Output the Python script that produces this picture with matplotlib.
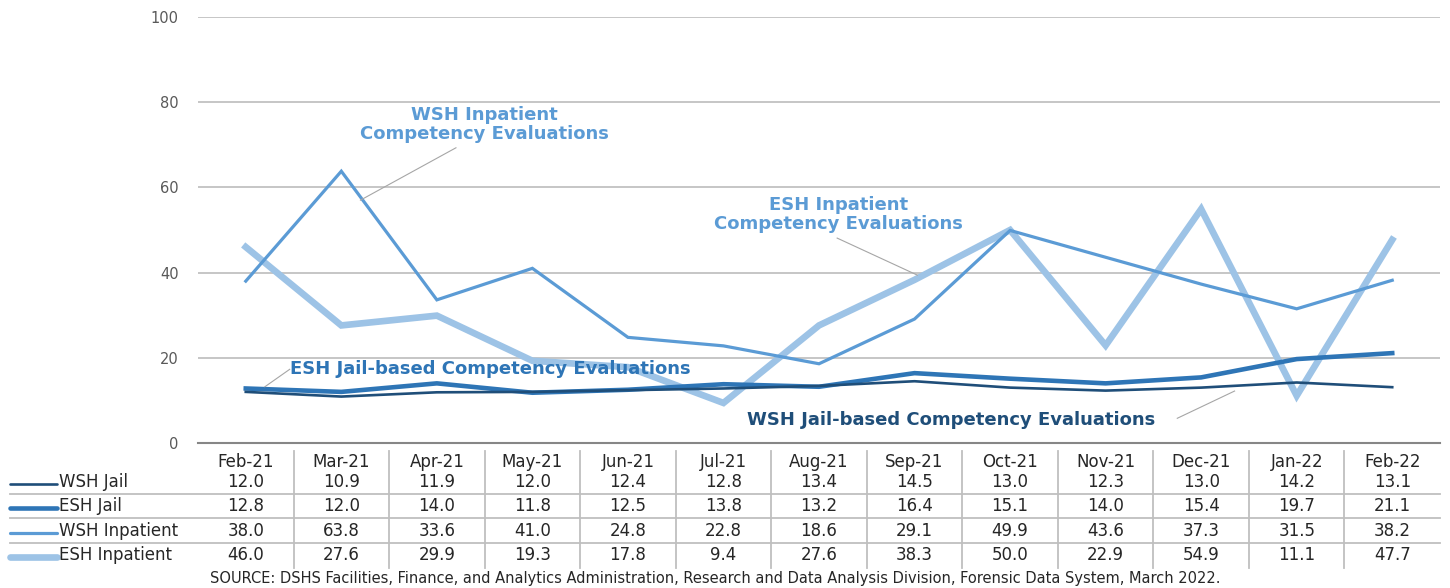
import matplotlib.pyplot as plt
from matplotlib.transforms import blended_transform_factory
from matplotlib.lines import Line2D

months = ['Feb-21', 'Mar-21', 'Apr-21', 'May-21', 'Jun-21', 'Jul-21', 'Aug-21',
          'Sep-21', 'Oct-21', 'Nov-21', 'Dec-21', 'Jan-22', 'Feb-22']
wsh_jail = [12.0, 10.9, 11.9, 12.0, 12.4, 12.8, 13.4, 14.5, 13.0, 12.3, 13.0, 14.2, 13.1]
esh_jail = [12.8, 12.0, 14.0, 11.8, 12.5, 13.8, 13.2, 16.4, 15.1, 14.0, 15.4, 19.7, 21.1]
wsh_inp = [38.0, 63.8, 33.6, 41.0, 24.8, 22.8, 18.6, 29.1, 49.9, 43.6, 37.3, 31.5, 38.2]
esh_inp = [46.0, 27.6, 29.9, 19.3, 17.8, 9.4, 27.6, 38.3, 50.0, 22.9, 54.9, 11.1, 47.7]

names = ['WSH Jail', 'ESH Jail', 'WSH Inpatient', 'ESH Inpatient']
series = [wsh_jail, esh_jail, wsh_inp, esh_inp]
colors = ['#1F4E79', '#2E75B6', '#5B9BD5', '#9DC3E6']
widths = [1.9, 3.3, 2.3, 4.8]

W, H = 1450, 588
fig = plt.figure(figsize=(14.5, 5.88), dpi=100)
ax = fig.add_axes([198 / W, 1 - 443 / H, (1440 - 198) / W, (443 - 17) / H])

x = list(range(len(months)))
# inpatient lines go under the jail lines
for i in [3, 2, 1, 0]:
    ax.plot(x, series[i], color=colors[i], lw=widths[i], solid_joinstyle='miter', zorder=3 + (3 - i))

ax.set_xlim(-0.5, len(months) - 0.5)
ax.set_ylim(0, 100)
ax.set_yticks([0, 20, 40, 60, 80, 100])
ax.tick_params(axis='y', length=0, labelsize=10.5, labelcolor='#595959', pad=14)
ax.set_xticks([])
ax.grid(axis='y', color='#C6C6C6', lw=1.4)
for s in ['top', 'right', 'left']:
    ax.spines[s].set_visible(False)
ax.spines['bottom'].set_color('#868686')
ax.spines['bottom'].set_linewidth(1.5)

# series labels with leader lines
def label(txt, tx, ty, color, ha, line):
    ax.text(tx, ty, txt, color=color, ha=ha, va='center', fontsize=13,
            fontweight='bold', linespacing=1.05, zorder=10)
    ax.add_line(Line2D(line[0], line[1], color='#A6A6A6', lw=0.8, zorder=9))

label('WSH Inpatient\nCompetency Evaluations', 2.5, 74.7, '#5B9BD5', 'center',
      ([1.2, 2.2], [57.0, 69.3]))
label('ESH Inpatient\nCompetency Evaluations', 6.2, 53.7, '#5B9BD5', 'center',
      ([6.19, 7.03], [48.1, 39.4]))
label('ESH Jail-based Competency Evaluations', 0.46, 17.4, '#2E75B6', 'left',
      ([0.46, 0.2], [17.3, 13.2]))
label('WSH Jail-based Competency Evaluations', 5.25, 5.5, '#1F4E79', 'left',
      ([9.75, 10.35], [5.8, 12.2]))

# data table under the axes
tr = blended_transform_factory(ax.transData, fig.transFigure)
row_y = [482, 506, 531, 555]
for j, m in enumerate(months):
    ax.text(j, 1 - 462 / H, m, transform=tr, ha='center', va='center',
            fontsize=12, color='#262626', clip_on=False)
    for r, vals in enumerate(series):
        ax.text(j, 1 - row_y[r] / H, f'{vals[j]:.1f}', transform=tr, ha='center',
                va='center', fontsize=12, color='#262626', clip_on=False)
for j in range(1, len(months)):
    ax.add_line(Line2D([j - 0.5, j - 0.5], [1 - 451 / H, 1 - 568 / H], transform=tr,
                       color='#BFBFBF', lw=1.3, clip_on=False))
for yy in [494, 518, 543]:
    fig.add_artist(Line2D([10 / W, 1440 / W], [1 - yy / H, 1 - yy / H],
                          color='#BFBFBF', lw=1.3))
for r, nm in enumerate(names):
    yy = 1 - row_y[r] / H
    fig.add_artist(Line2D([10 / W, 57 / W], [yy - 0.004, yy - 0.004], color=colors[r],
                          lw=widths[r], solid_capstyle='round'))
    fig.text(59 / W, yy, nm, ha='left', va='center', fontsize=12, color='#262626')

fig.text(715 / W, 1 - 578 / H,
         'SOURCE: DSHS Facilities, Finance, and Analytics Administration, Research and Data '
         'Analysis Division, Forensic Data System, March 2022.',
         ha='center', va='center', fontsize=10.5, color='#262626')

fig.savefig('out.png', dpi=100)
